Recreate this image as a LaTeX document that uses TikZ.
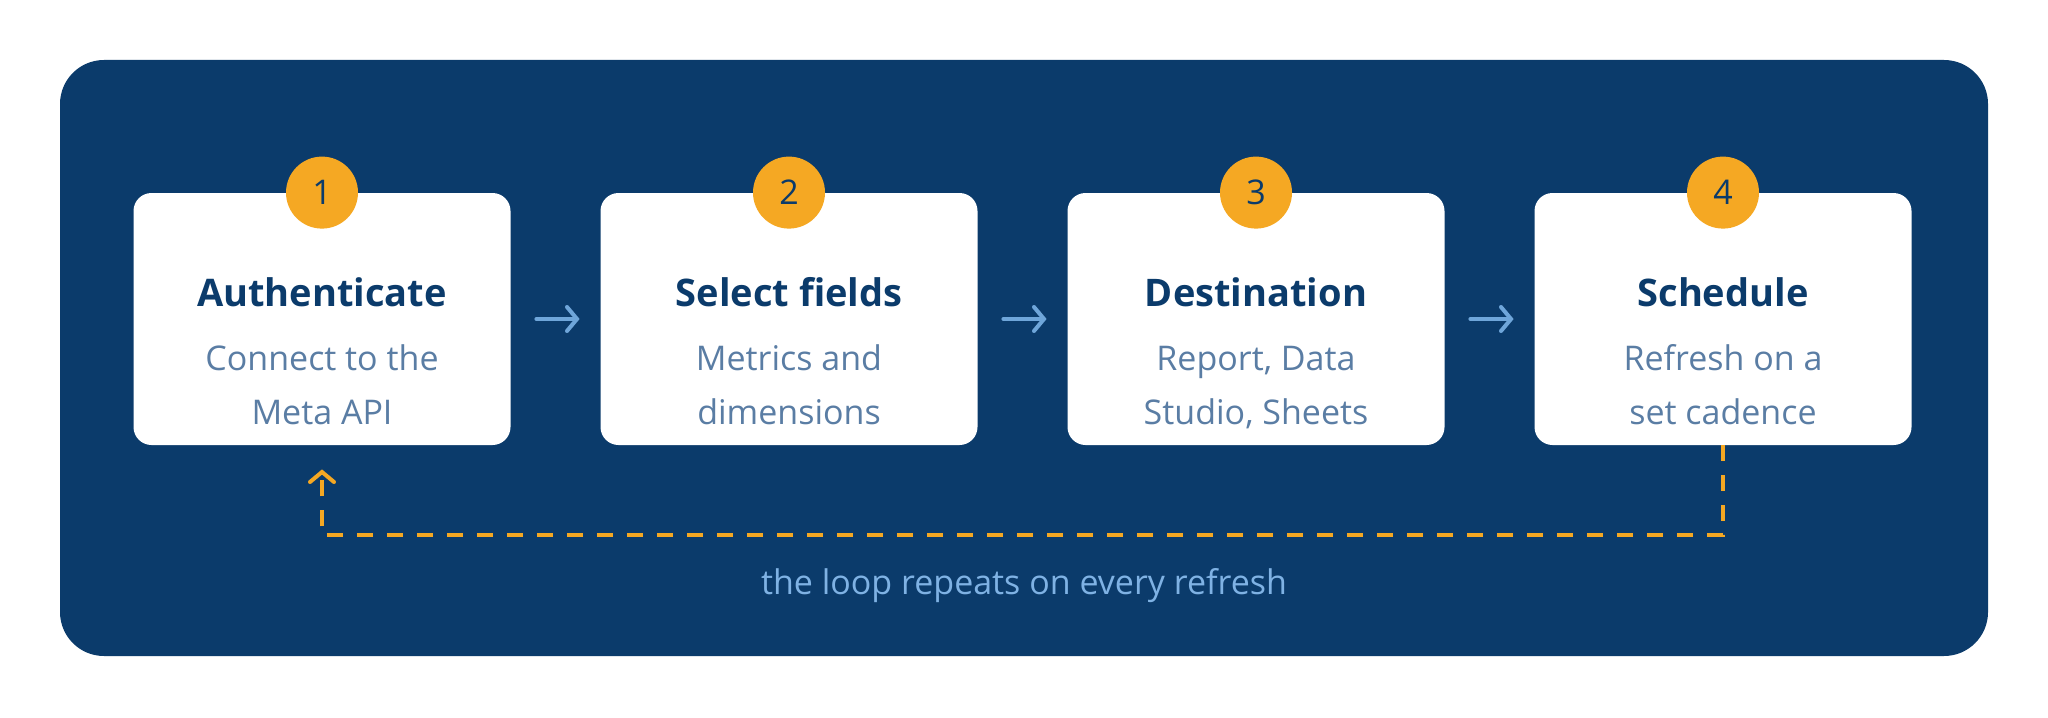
\documentclass[tikz,border=0pt]{standalone}
\usepackage{fontspec}
\setmainfont{Open Sans}
\usetikzlibrary{arrows.meta,positioning,calc}
\definecolor{navy}{HTML}{0B3B6B}
\definecolor{orng}{HTML}{F5A823}
\definecolor{subc}{HTML}{5A7DA4}
\definecolor{arrc}{HTML}{6FA6DA}
\definecolor{loopc}{HTML}{7FB2E4}
\tikzset{
  stepbox/.style={draw=none,fill=white,rounded corners=9pt,minimum width=188.5pt,minimum height=126pt,inner sep=0pt},
  badge/.style={circle,fill=orng,minimum size=36pt,inner sep=0pt,text=navy,font=\fontsize{17}{17}\selectfont},
  ttl/.style={anchor=base,text=navy,font=\fontsize{19}{19}\selectfont\bfseries,inner sep=0pt},
  sub/.style={anchor=base,text=subc,font=\fontsize{17}{17}\selectfont,inner sep=0pt},
  flow/.style={draw=arrc,line width=2pt,line cap=round,-{Straight Barb[length=5pt,width=12pt,line cap=round]},shorten <=12.75pt,shorten >=10.25pt},
  loopline/.style={draw=orng,line width=2pt,dash pattern=on 8pt off 7pt,-{Straight Barb[length=5pt,width=12pt,line cap=round]}},
}
\begin{document}
\begin{tikzpicture}[x=0.5pt,y=-0.5pt]
\useasboundingbox (0,0) rectangle (2048,717);
\node[fill=navy,rounded corners=22pt,minimum width=964pt,minimum height=298pt,inner sep=0pt] (bg) at (1024,358) {};
% boxes
\node[stepbox] (b1) at (322,319) {};
\node[stepbox] (b2) at (789,319) {};
\node[stepbox] (b3) at (1256,319) {};
\node[stepbox] (b4) at (1723,319) {};
% badges
\node[badge] (c1) at (b1.north) {1};
\node[badge] (c2) at (b2.north) {2};
\node[badge] (c3) at (b3.north) {3};
\node[badge] (c4) at (b4.north) {4};
% texts
\node[ttl] (t1) at (322,306) {Authenticate};
\node[sub] (s1a) at (322,370) {Connect to the};
\node[sub] (s1b) at (322,424) {Meta API};
\node[ttl] (t2) at (789,306) {Select fields};
\node[sub] (s2a) at (789,370) {Metrics and};
\node[sub] (s2b) at (789,424) {dimensions};
\node[ttl] (t3) at (1256,306) {Destination};
\node[sub] (s3a) at (1256,370) {Report, Data};
\node[sub] (s3b) at (1256,424) {Studio, Sheets};
\node[ttl] (t4) at (1723,306) {Schedule};
\node[sub] (s4a) at (1723,370) {Refresh on a};
\node[sub] (s4b) at (1723,424) {set cadence};
% flow arrows
\draw[flow] (b1.east) -- (b2.west);
\draw[flow] (b2.east) -- (b3.west);
\draw[flow] (b3.east) -- (b4.west);
% loop
\coordinate (lt) at ([yshift=-12pt]b1.south);
\draw[loopline] (b4.south) -- ++(0,90) -| (lt);
\node[anchor=base,text=loopc,font=\fontsize{17}{17}\selectfont,inner sep=0pt] (lbl) at (1024,594) {the loop repeats on every refresh};
\end{tikzpicture}
\end{document}
